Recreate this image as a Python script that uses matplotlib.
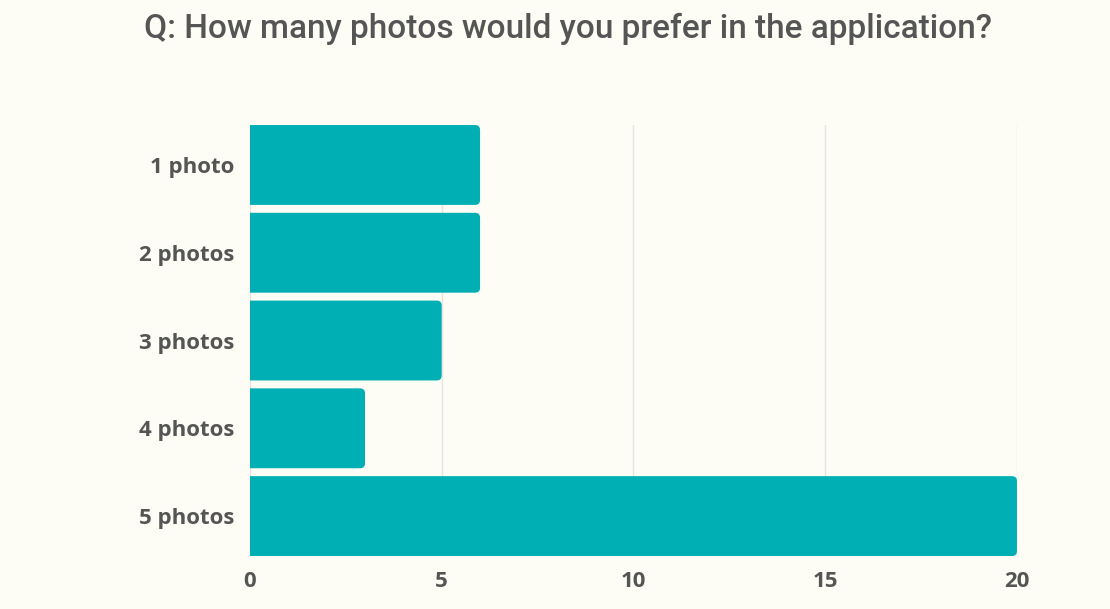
import matplotlib
matplotlib.use("Agg")
import matplotlib.pyplot as plt
from matplotlib.patches import PathPatch
from matplotlib.path import Path

title = "Q: How many photos would you prefer in the application?"
categories = ["1 photo", "2 photos", "3 photos", "4 photos", "5 photos"]
counts = [6, 6, 5, 3, 20]
x_ticks = [0, 5, 10, 15, 20]

bg = "#fdfdf6"
bar_color = "#00afb4"
text_color = "#555555"

fig = plt.figure(figsize=(11.1, 6.09), dpi=100, facecolor=bg)
ax = fig.add_axes([0.2252, 0.0870, 0.6910, 0.7077], facecolor=bg)

bar_h = 0.91
bars = ax.barh(range(len(categories)), counts, height=bar_h, color=bar_color)
ax.set_xlim(0, 20)
ax.set_ylim(len(categories) - 1 + bar_h / 2, -bar_h / 2)

# redraw each bar as one path with its right-hand corners rounded
fig.canvas.draw()
px_x = ax.transData.transform((1, 0))[0] - ax.transData.transform((0, 0))[0]
px_y = abs(ax.transData.transform((0, 1))[1] - ax.transData.transform((0, 0))[1])
r_px = 5.0
rx, ry = r_px / px_x, r_px / px_y
for b in bars:
    x0, y0 = b.get_x(), b.get_y()
    x1, y1 = x0 + b.get_width(), y0 + b.get_height()
    b.set_visible(False)
    verts = [(x0, y0), (x1 - rx, y0), (x1, y0), (x1, y0 + ry),
             (x1, y1 - ry), (x1, y1), (x1 - rx, y1), (x0, y1), (x0, y0)]
    codes = [Path.MOVETO, Path.LINETO, Path.CURVE3, Path.CURVE3,
             Path.LINETO, Path.CURVE3, Path.CURVE3, Path.LINETO, Path.CLOSEPOLY]
    ax.add_patch(PathPatch(Path(verts, codes), fc=bar_color, ec="none", zorder=3))

ax.set_xticks(x_ticks)
ax.set_xticklabels([str(t) for t in x_ticks])
ax.set_yticks(range(len(categories)))
ax.set_yticklabels(categories)
ax.grid(axis="x", color="#e4e4e0", linewidth=1, zorder=0)
ax.set_axisbelow(True)
for s in ax.spines.values():
    s.set_visible(False)
ax.tick_params(length=0)
ax.tick_params(axis="y", pad=11)
ax.tick_params(axis="x", pad=11)
for lab in ax.get_yticklabels() + ax.get_xticklabels():
    lab.set_fontfamily("Open Sans")
    lab.set_fontweight("bold")
    lab.set_fontsize(16)
    lab.set_color(text_color)

fig.text(0.512, 0.953, title, ha="center", va="center",
         fontsize=24, color=text_color, family="Roboto", fontweight="medium")

fig.savefig("out.png", dpi=100, facecolor=bg)
